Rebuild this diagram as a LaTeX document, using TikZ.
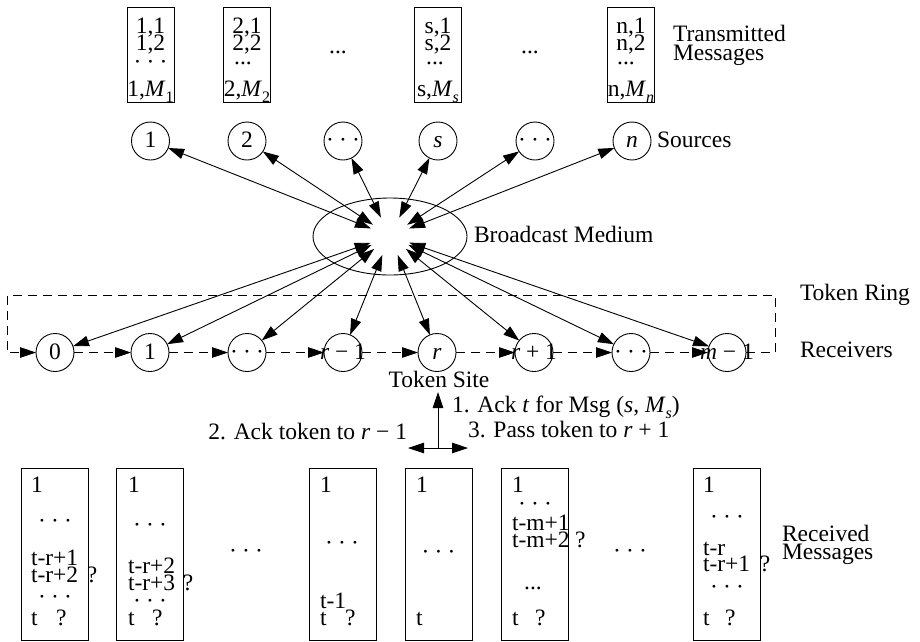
\documentclass[tikz,border=0pt]{standalone}
\usepackage{fontspec}
\setmainfont{Liberation Serif}
\usetikzlibrary{arrows.meta,shapes.geometric}

\newcommand\sz{\fontsize{23.5}{17}\selectfont\lineskiplimit=-30pt\lineskip=0pt}
\newcommand\lowsub[1]{\raisebox{-0.28em}{\fontsize{16}{16}\selectfont #1}}
\newcommand\cdts{·\hspace{0.22em}·\hspace{0.22em}·}
% circle label: fixed vertical extent, no horizontal extent
\newcommand\cl[1]{\rule[-5pt]{0pt}{23pt}\makebox[0pt]{#1}}
\newcommand\mk[2]{\makebox[#1pt]{#2}}

\tikzset{
  every node/.style={font=\sz, inner sep=0pt, outer sep=0pt},
  site/.style={circle, draw, line width=0.9pt, minimum size=38pt},
  msgbox/.style={draw, rectangle, line width=0.9pt},
  srcbox/.style={msgbox, minimum width=47pt, minimum height=95pt},
  rcvbox/.style={msgbox, minimum width=67pt, minimum height=172pt},
  tip/.tip={Triangle[length=16pt, width=10.5pt]},
  link/.style={line width=0.9pt, tip-tip},
  ring/.style={line width=0.9pt, dash pattern=on 9pt off 6pt, -tip},
  lw/.style={anchor=base west},
  lc/.style={anchor=base},
  le/.style={anchor=base east},
  % multi-line texts are placed by the baseline of their last line
  qtext/.style={anchor=base, align=center},
  logtext/.style={anchor=base west, align=left},
}

\begin{document}
\begin{tikzpicture}[x=1pt, y=-1pt]
\useasboundingbox (0,0) rectangle (920,641);

% transmitted message queues
\node[srcbox] (q1) at (150.5,54.5) {};
\node[srcbox] (q2) at (247,54.5) {};
\node[srcbox] (qs) at (438,54.5) {};
\node[srcbox] (qn) at (631,54.5) {};
\node[qtext] (q1t) at (150.5,96) {1,1\\1,2\\[2pt]\cdts\\[10pt]1,\textit{M}\lowsub{1}};
\node[qtext] (q2t) at (247,96) {2,1\\2,2\\[-3pt]\hspace*{-8pt}...\\[15pt]2,\textit{M}\lowsub{2}};
\node[qtext] (qst) at (438,96) {s,1\\s,2\\[-3pt]\hspace*{-6pt}...\\[15pt]s,\textit{M}\lowsub{\textit{s}}};
\node[qtext] (qnt) at (631,96) {n,1\\n,2\\[-3pt]\hspace*{-10pt}...\\[15pt]n,\textit{M}\lowsub{\textit{n}}};
\node[lc] (qgap1) at (338,53) {...};
\node[lc] (qgap2) at (530,53) {...};
\node[logtext] (tlab) at (673,60) {Transmitted\\[2pt]Messages};

% sources
\node[site] (s1) at (150.5,141) {\cl{1}};
\node[site] (s2) at (247,141) {\cl{2}};
\node[site] (s3) at (343,141) {\cl{\cdts}};
\node[site] (s4) at (438,141) {\cl{\textit{s}}};
\node[site] (s5) at (535,141) {\cl{\cdts}};
\node[site] (s6) at (632,141) {\cl{\textit{n}}};
\node[lw] (srclab) at (657,147) {Sources};

% broadcast medium
\node[ellipse, draw, line width=0.9pt, minimum width=154pt, minimum height=77pt] (medium) at (390,236.5) {};
\node[circle, minimum size=41pt] (hub) at (390,236) {};
\node[lw] (medlab) at (474,242) {Broadcast Medium};

% receivers
\node[site] (r0) at (55,352.5) {\cl{0}};
\node[site] (r1) at (150,352.5) {\cl{1}};
\node[site] (r2) at (247,352.5) {\cl{\cdts}};
\node[site] (r3) at (343,352.5) {\cl{\textit{r} − 1}};
\node[site] (r4) at (437,352.5) {\cl{\textit{r}}};
\node[site] (r5) at (534,352.5) {\cl{\textit{r} + 1}};
\node[site] (r6) at (631,352.5) {\cl{\cdts}};
\node[site] (r7) at (727,352.5) {\cl{\textit{m} − 1}};
\node[lw] (ringlab) at (800,300) {Token Ring};
\node[lw] (rcvlab) at (800,357) {Receivers};

% broadcast links
\foreach \n in {s1,s2,s3,s4,s5,s6,r0,r1,r2,r3,r4,r5,r6,r7}
  \draw[link] (hub) -- (\n);

% token ring
\coordinate (ringE) at (775,352.5);
\coordinate (ringNE) at (775,295);
\coordinate (ringNW) at (7,295);
\coordinate (ringW) at (7,352.5);
\draw[ring] (r0) -- (r1);
\draw[ring] (r1) -- (r2);
\draw[ring] (r2) -- (r3);
\draw[ring] (r3) -- (r4);
\draw[ring] (r4) -- (r5);
\draw[ring] (r5) -- (r6);
\draw[ring] (r6) -- (r7);
\draw[ring] (r7.east) -- (ringE) -- (ringNE) -- (ringNW) -- (ringW) -- (r0);

% token site actions
\node[lc] (sitelab) at (439,387) {Token Site};
\coordinate (act) at (438,448);
\coordinate (actU) at (438,392);
\coordinate (actL) at (408,448);
\coordinate (actR) at (468,448);
\draw[line width=0.9pt, -tip] (act) -- (actU);
\draw[link] (actL) -- (actR);
\node[lw] (step1) at (452,412) {1. Ack \textit{t} for Msg (\textit{s}, \textit{M}\lowsub{\textit{s}})};
\node[le] (step2) at (407,439) {2. Ack token to \textit{r} − 1};
\node[lw] (step3) at (468,437) {3. Pass token to \textit{r} + 1};

% received message logs
\node[rcvbox] (b1) at (55,554) {};
\node[rcvbox] (b2) at (150,554) {};
\node[rcvbox] (b3) at (343,554) {};
\node[rcvbox] (b4) at (438.5,554) {};
\node[rcvbox] (b5) at (534.5,554) {};
\node[rcvbox] (b6) at (727,554) {};

\node[logtext] (b1t) at (31,625)
  {1\\[19pt]\mk{48}{\cdts}\\[20pt]t-r+1\\t-r+2\hspace{8.8pt}?\\[5pt]\mk{48}{\cdts}\\[4pt]t\hspace{18.5pt}?};
\node[logtext] (b2t) at (128,625)
  {1\\[23pt]\mk{44}{\cdts}\\[24pt]t-r+2\\t-r+3\hspace{7.8pt}?\\[1pt]\mk{44}{\cdts}\\t\hspace{17.5pt}?};
\node[logtext] (b3t) at (320,625)
  {1\\[41pt]\mk{44}{\cdts}\\[41pt]t-1\\t\hspace{18.5pt}?};
\node[logtext] (b4t) at (416,625)
  {1\\[50pt]\mk{45}{\cdts}\\[49pt]t};
\node[logtext] (b5t) at (512,625)
  {1\\[2pt]\mk{46}{\cdts}\\[2pt]t-m+1\\t-m+2\hspace{5.4pt}?\\[25pt]\mk{42}{...}\\[19pt]t\hspace{16.5pt}?};
\node[logtext] (b6t) at (703,625)
  {1\\[15pt]\mk{48}{\cdts}\\[14pt]t-r\\[-1pt]t-r+1\hspace{9.8pt}?\\[6pt]\mk{48}{\cdts}\\[14pt]t\hspace{15.5pt}?};

\node[lc] (bgap1) at (246,558) {\cdts};
\node[lc] (bgap2) at (630,558) {\cdts};
\node[logtext] (rlab) at (782,559) {Received\\[1pt]Messages};
\end{tikzpicture}
\end{document}
